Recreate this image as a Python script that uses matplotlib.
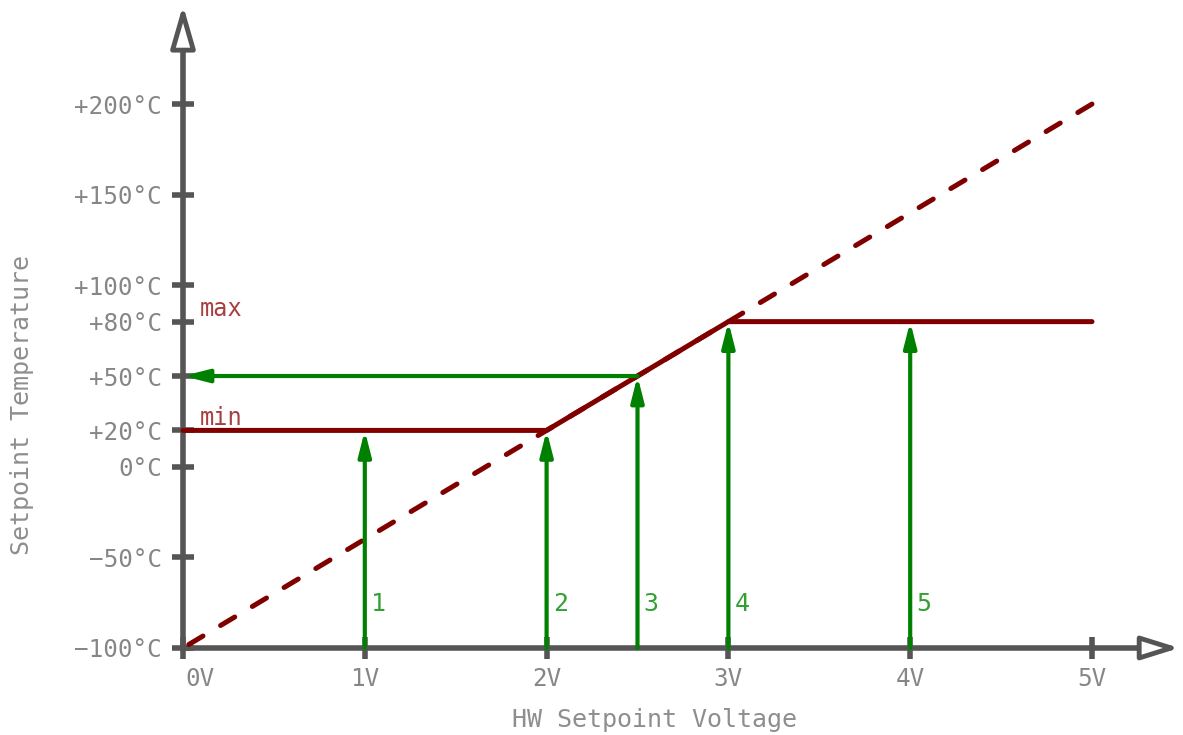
import matplotlib
matplotlib.use("Agg")
import matplotlib.pyplot as plt
from matplotlib.transforms import ScaledTranslation

# ------------------------------------------------------------------
# Data
# ------------------------------------------------------------------
volt_ticks = [0, 1, 2, 3, 4, 5]
volt_labels = ["0V", "1V", "2V", "3V", "4V", "5V"]
temp_ticks = [-100, -50, 0, 20, 50, 80, 100, 150, 200]
temp_labels = ["\u2212100°C", "\u221250°C", "0°C", "+20°C", "+50°C",
               "+80°C", "+100°C", "+150°C", "+200°C"]

# linear mapping 5..0 V -> +200..-100 °C (drawn from the top so the dash ends there)
lin_v = [5, 0]
lin_t = [200, -100]

# clamped setpoint curve (min / max limits)
clamp_v = [0, 2, 3, 5]
clamp_t = [20, 20, 80, 80]
t_min, t_max = 20, 80

# example voltages and the resulting setpoint
sample_v = [1, 2, 2.5, 3, 4]
sample_t = [20, 20, 50, 80, 80]
sample_names = ["1", "2", "3", "4", "5"]

RED = "#800000"
GREEN = "#008000"
AXIS = "#555555"
TXT = "#868686"
FONT = "DejaVu Sans Mono"

plt.rcParams["font.family"] = FONT

fig = plt.figure(figsize=(11.83, 7.35), dpi=100)
ax = fig.add_axes([0, 0, 1, 1])
ax.set_xlim(-1.0066, 5.5006)
ax.set_ylim(-148.0, 257.4)

# ------------------------------------------------------------------
# Axes as crossing spines with hollow arrow heads
# ------------------------------------------------------------------
for s in ["top", "right"]:
    ax.spines[s].set_visible(False)
ax.spines["left"].set_position(("data", 0))
ax.spines["bottom"].set_position(("data", -100))
ax.spines["left"].set_bounds(-100, 238)
ax.spines["bottom"].set_bounds(0, 5.3)
for s in ["left", "bottom"]:
    ax.spines[s].set_color(AXIS)
    ax.spines[s].set_linewidth(4)
    ax.spines[s].set_capstyle("butt")

ax.annotate("", xy=(0, 254.5), xytext=(0, 232),
            arrowprops=dict(arrowstyle="-|>,head_length=2.6,head_width=0.75",
                            lw=3.5, ec=AXIS, fc="white", shrinkA=0, shrinkB=0))
ax.annotate("", xy=(5.48, -100), xytext=(5.25, -100),
            arrowprops=dict(arrowstyle="-|>,head_length=2.3,head_width=0.72",
                            lw=3.5, ec=AXIS, fc="white", shrinkA=0, shrinkB=0))

ax.set_xticks(volt_ticks)
ax.set_xticklabels(volt_labels)
ax.set_yticks(temp_ticks)
ax.set_yticklabels(temp_labels)
ax.tick_params(axis="both", direction="inout", length=16, width=4,
               color=AXIS, labelcolor=TXT, labelsize=17.5)
ax.tick_params(axis="x", pad=6)
ax.tick_params(axis="y", pad=7)
# 0V label sits to the right of the origin
lbl0 = ax.get_xticklabels()[0]
lbl0.set_transform(lbl0.get_transform() + ScaledTranslation(0.17, 0, fig.dpi_scale_trans))

fig.text(655 / 1183, 1 - 720 / 735, "HW Setpoint Voltage", color="#8e8e8e",
         fontsize=18, ha="center", va="center")
fig.text(22 / 1183, 1 - 405 / 735, "Setpoint Temperature", color="#8e8e8e",
         fontsize=18, ha="center", va="center", rotation=90)

# ------------------------------------------------------------------
# Curves
# ------------------------------------------------------------------
ax.plot(lin_v, lin_t, color=RED, lw=3.6, ls=(0, (3.3, 4.1)),
        dash_capstyle="round", zorder=3)
ax.plot(clamp_v, clamp_t, color=RED, lw=3.6, solid_capstyle="round", zorder=3)

ax.text(0.09, t_max + 7, "max", color="#a84040", fontsize=17, ha="left", va="center")
ax.text(0.09, t_min + 7, "min", color="#a84040", fontsize=17, ha="left", va="center")

# ------------------------------------------------------------------
# Example arrows
# ------------------------------------------------------------------
arrow = dict(arrowstyle="-|>,head_length=1.5,head_width=0.38", lw=3,
             color=GREEN, shrinkA=0, shrinkB=0)
for v, t, name in zip(sample_v, sample_t, sample_names):
    ax.annotate("", xy=(v, t), xytext=(v, -100), arrowprops=arrow, zorder=4)
    ax.text(v + 0.035, -76, name, color="#32a032", fontsize=18,
            ha="left", va="center")

# read-out of example 3 onto the temperature axis
ax.annotate("", xy=(0, sample_t[2]), xytext=(sample_v[2], sample_t[2]),
            arrowprops=arrow, zorder=4)

fig.savefig("out.png", dpi=100)
